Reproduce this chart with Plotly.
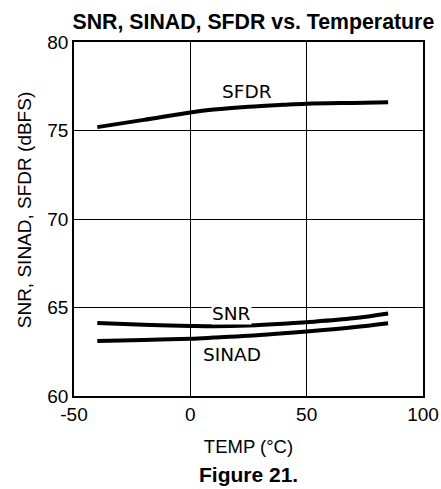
import plotly.graph_objects as go

temp = [-40, -20, 0, 10, 25, 40, 50, 70, 85]
sfdr = [75.19, 75.6, 76.02, 76.18, 76.34, 76.45, 76.51, 76.56, 76.59]
snr = [64.13, 64.03, 63.96, 63.94, 63.98, 64.08, 64.17, 64.39, 64.66]
sinad = [63.11, 63.17, 63.24, 63.3, 63.4, 63.54, 63.64, 63.88, 64.11]

line_labels = ["SFDR", "SNR", "SINAD"]
label_x = [24.2, 17.5, 18.0]
label_y = [77.22, 64.66, 62.36]

x_ticks = [-50, 0, 50, 100]
x_tick_text = ["-50", "0", "50", "100"]
y_ticks = [60, 65, 70, 75, 80]

fig = go.Figure()
for ys in (sfdr, snr, sinad):
    fig.add_trace(go.Scatter(x=temp, y=ys, mode="lines", line=dict(color="black", width=4, shape="spline"),
                             showlegend=False, hoverinfo="skip"))

for t, lx, ly in zip(line_labels, label_x, label_y):
    fig.add_annotation(x=lx, y=ly, text=t, showarrow=False, font=dict(size=18.5, color="black", family="DejaVu Sans"),
                       bgcolor="white" if t == "SNR" else None, borderpad=0)

fig.add_annotation(x=0.5, y=-0.221, xref="paper", yref="paper", text="<b>Figure 21.</b>", showarrow=False,
                   yanchor="middle", font=dict(size=21, color="black", family="Liberation Sans"))

fig.add_annotation(x=-0.143, y=0.525, xref="paper", yref="paper", text="SNR, SINAD, SFDR (dBFS)",
                   textangle=-90, showarrow=False, xanchor="center", yanchor="middle",
                   font=dict(size=19, color="black", family="Liberation Sans"))

fig.update_layout(
    template="none",
    width=441, height=489,
    margin=dict(l=74, r=18, t=42, b=93),
    paper_bgcolor="white", plot_bgcolor="white",
    title=dict(text="<b>SNR, SINAD, SFDR vs. Temperature</b>", x=0.514, xref="paper", xanchor="center",
               y=0.955, yanchor="middle",
               font=dict(size=21.3, color="black", family="Liberation Sans")),
    font=dict(family="Liberation Sans", color="black", size=19),
    xaxis=dict(range=[-50, 100], tickvals=x_ticks, ticktext=x_tick_text, showgrid=True, gridcolor="black",
               gridwidth=1, showline=True, linecolor="black", linewidth=1.5, mirror=True, zeroline=False,
               automargin=False, ticks="", ticklen=0, tickfont=dict(size=19),
               title=dict(text="TEMP (°C)", font=dict(size=18.5), standoff=17)),
    yaxis=dict(range=[60, 80], tickvals=y_ticks, showgrid=True, gridcolor="black", gridwidth=1,
               showline=True, linecolor="black", linewidth=1.5, mirror=True, zeroline=False, automargin=False,
               ticks="", tickfont=dict(size=19)),
)

fig.write_html("out.html", config={"displayModeBar": False},
               post_script="document.body.style.margin='0';document.body.style.overflow='hidden';")
